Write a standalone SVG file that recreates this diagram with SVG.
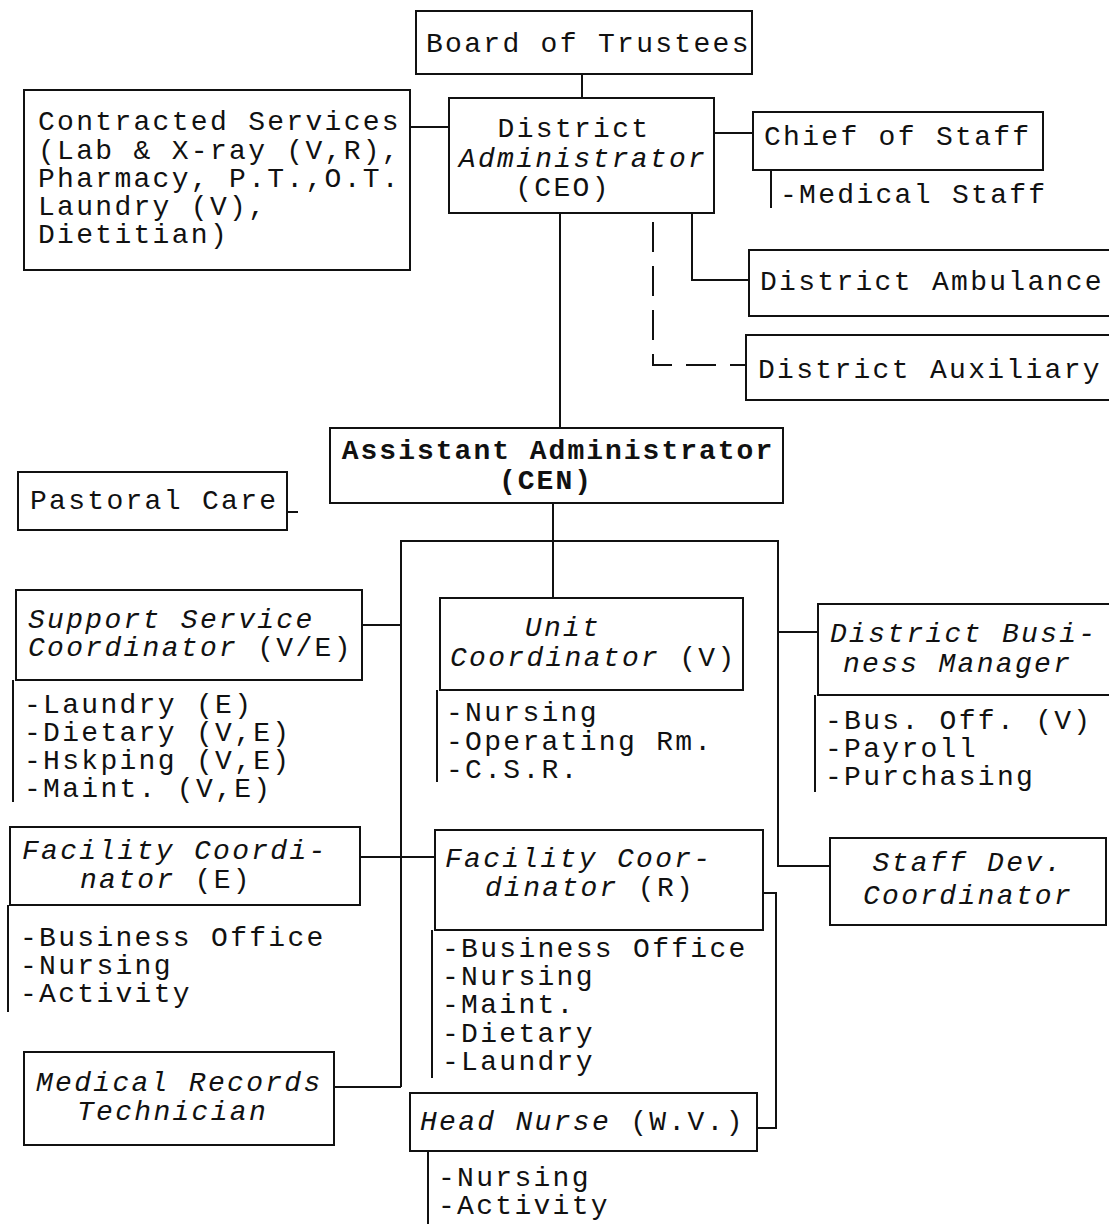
<svg xmlns="http://www.w3.org/2000/svg" width="1109" height="1224" viewBox="0 0 1109 1224">
<style>
text{font-family:"Liberation Mono","Courier New",monospace;font-size:28px;letter-spacing:2.3px;fill:#111}
.i{font-style:italic}
.b{font-weight:bold;letter-spacing:2px}
rect{fill:#fff;stroke:#111;stroke-width:2}
line,path{stroke:#111;stroke-width:2;fill:none}
.d{stroke-dasharray:30 14}
</style>
<rect x="0" y="0" width="1109" height="1224" style="stroke:none"/>
<g id="connectors">
<line x1="582" y1="74" x2="582" y2="98"/>
<line x1="410" y1="127" x2="449" y2="127"/>
<line x1="714" y1="133" x2="753" y2="133"/>
<path d="M692 213 V280 H749"/>
<path class="d" d="M653 222 V365 H746"/>
<line x1="560" y1="213" x2="560" y2="428"/>
<line x1="287" y1="512" x2="298" y2="512"/>
<line x1="553" y1="503" x2="553" y2="598"/>
<path d="M401 1087 V541 H778 V866 H830"/>
<line x1="362" y1="625" x2="401" y2="625"/>
<line x1="778" y1="632" x2="818" y2="632"/>
<line x1="360" y1="857" x2="435" y2="857"/>
<line x1="334" y1="1087" x2="401" y2="1087"/>
<path d="M763 893 H776 V1128 H757"/>
</g>
<g id="board"><rect x="416" y="11" width="336" height="63"/><text x="426" y="52">Board of Trustees</text></g>
<g id="district-admin"><rect x="449" y="98" width="265" height="115"/>
<text x="574" y="137" text-anchor="middle">District</text>
<text x="583" y="167" text-anchor="middle" class="i">Administrator</text>
<text x="563" y="196" text-anchor="middle">(CEO)</text></g>
<g id="contracted"><rect x="24" y="90" width="386" height="180"/>
<text x="38" y="130">Contracted Services</text>
<text x="38" y="159">(Lab &amp; X-ray (V,R),</text>
<text x="38" y="187">Pharmacy, P.T.,O.T.</text>
<text x="38" y="215">Laundry (V),</text>
<text x="38" y="243">Dietitian)</text></g>
<g id="chief"><rect x="753" y="112" width="290" height="58"/><text x="764" y="145">Chief of Staff</text>
<line x1="771" y1="170" x2="771" y2="208"/><text x="780" y="203">-Medical Staff</text></g>
<g id="ambulance"><rect x="749" y="250" width="370" height="66"/><text x="760" y="290">District Ambulance</text></g>
<g id="auxiliary"><rect x="746" y="335" width="373" height="65"/><text x="758" y="378">District Auxiliary</text></g>
<g id="assistant"><rect x="330" y="428" width="453" height="75"/>
<text x="558" y="459" text-anchor="middle" class="b">Assistant Administrator</text>
<text x="546" y="489" text-anchor="middle" class="b">(CEN)</text></g>
<g id="pastoral"><rect x="18" y="472" width="269" height="58"/><text x="30" y="509">Pastoral Care</text></g>
<g id="support"><rect x="16" y="590" width="346" height="90"/>
<text x="28" y="628" class="i">Support Service</text>
<text x="28" y="656"><tspan class="i">Coordinator</tspan> (V/E)</text>
<line x1="13" y1="680" x2="13" y2="802"/>
<text x="24" y="713">-Laundry (E)</text>
<text x="24" y="741">-Dietary (V,E)</text>
<text x="24" y="769">-Hskping (V,E)</text>
<text x="24" y="797">-Maint. (V,E)</text></g>
<g id="unit"><rect x="440" y="598" width="303" height="92"/>
<text x="563" y="636" text-anchor="middle" class="i">Unit</text>
<text x="450" y="666"><tspan class="i">Coordinator</tspan> (V)</text>
<line x1="437" y1="690" x2="437" y2="782"/>
<text x="446" y="721">-Nursing</text>
<text x="446" y="750">-Operating Rm.</text>
<text x="446" y="778">-C.S.R.</text></g>
<g id="business"><rect x="818" y="604" width="301" height="91"/>
<text x="830" y="642" class="i">District Busi-</text>
<text x="843" y="672" class="i">ness Manager</text>
<line x1="815" y1="695" x2="815" y2="792"/>
<text x="825" y="729">-Bus. Off. (V)</text>
<text x="825" y="757">-Payroll</text>
<text x="825" y="785">-Purchasing</text></g>
<g id="facility-e"><rect x="10" y="827" width="350" height="78"/>
<text x="22" y="859" class="i">Facility Coordi-</text>
<text x="80" y="888"><tspan class="i">nator</tspan> (E)</text>
<line x1="8" y1="905" x2="8" y2="1012"/>
<text x="20" y="946">-Business Office</text>
<text x="20" y="974">-Nursing</text>
<text x="20" y="1002">-Activity</text></g>
<g id="facility-r"><rect x="435" y="830" width="328" height="100"/>
<text x="445" y="867" class="i">Facility Coor-</text>
<text x="485" y="896"><tspan class="i">dinator</tspan> (R)</text>
<line x1="432" y1="930" x2="432" y2="1078"/>
<text x="442" y="957">-Business Office</text>
<text x="442" y="985">-Nursing</text>
<text x="442" y="1013">-Maint.</text>
<text x="442" y="1042">-Dietary</text>
<text x="442" y="1070">-Laundry</text></g>
<g id="staff-dev"><rect x="830" y="838" width="276" height="87"/>
<text x="968" y="871" text-anchor="middle" class="i">Staff Dev.</text>
<text x="968" y="904" text-anchor="middle" class="i">Coordinator</text></g>
<g id="medical-records"><rect x="24" y="1052" width="310" height="93"/>
<text x="36" y="1091" class="i">Medical Records</text>
<text x="77" y="1120" class="i">Technician</text></g>
<g id="head-nurse"><rect x="410" y="1093" width="347" height="58"/>
<text x="420" y="1130"><tspan class="i">Head Nurse</tspan> (W.V.)</text>
<line x1="428" y1="1151" x2="428" y2="1224"/>
<text x="438" y="1186">-Nursing</text>
<text x="438" y="1214">-Activity</text></g>
</svg>
